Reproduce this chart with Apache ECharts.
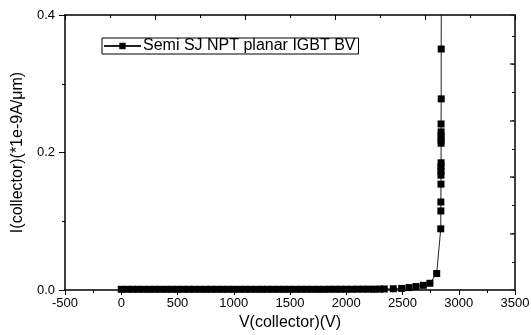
<!DOCTYPE html>
<html>
<head>
<meta charset="utf-8">
<script src="https://cdn.jsdelivr.net/npm/echarts@6/dist/echarts.min.js"></script>
<style>
  html, body { margin: 0; padding: 0; background: #fff; }
  #chart { width: 531px; height: 335px; }
</style>
</head>
<body>
<div id="chart"></div>
<script>
// breakdown sweep, V(collector) in volts
var voltage = [
    0, 50, 100, 150, 200, 250, 300, 350, 400, 450,
    500, 550, 600, 650, 700, 750, 800, 850, 900, 950,
    1000, 1050, 1100, 1150, 1200, 1250, 1300, 1350, 1400, 1450,
    1500, 1550, 1600, 1650, 1700, 1750, 1800, 1850, 1900, 1950,
    2000, 2050, 2100, 2150, 2200, 2250, 2300,
    2338, 2418, 2493, 2558, 2620, 2685, 2744, 2804,
    2840, 2841, 2841, 2842, 2842, 2842, 2842, 2843,
    2843, 2843, 2843, 2843, 2843, 2844, 2844, 2845
];
// I(collector) in 1e-9 A/um
var current = [
    0.001, 0.001, 0.001, 0.001, 0.001, 0.001, 0.001, 0.001, 0.001, 0.001,
    0.001, 0.001, 0.001, 0.001, 0.001, 0.001, 0.001, 0.001, 0.001, 0.001,
    0.001, 0.001, 0.001, 0.001, 0.001, 0.001, 0.001, 0.001, 0.001, 0.001,
    0.001, 0.001, 0.001, 0.001, 0.001, 0.001, 0.001, 0.0011, 0.0011, 0.0011,
    0.0011, 0.0011, 0.0012, 0.0012, 0.0012, 0.0012, 0.0013,
    0.0015, 0.0018, 0.0023, 0.0035, 0.005, 0.0068, 0.0098, 0.024,
    0.089, 0.115, 0.128, 0.154, 0.167, 0.173, 0.179, 0.185,
    0.2135, 0.218, 0.224, 0.23, 0.2415, 0.278, 0.3505, 0.46
];
var seriesName = 'Semi SJ NPT planar IGBT BV';
var xTicks = [-500, 3500, 500];
var yTicks = [0, 0.4, 0.2];

var points = [];
for (var i = 0; i < voltage.length; i++) {
    points.push([voltage[i], current[i]]);
}

var font = 'Liberation Sans, Arial, sans-serif';
var black = '#000';

var option = {
    animation: false,
    backgroundColor: '#fff',
    grid: {
        left: 65,
        right: 16,
        top: 15,
        bottom: 45,
        containLabel: false,
        outerBoundsMode: 'none'
    },
    legend: {
        show: true,
        data: [seriesName],
        left: 102,
        top: 38,
        orient: 'horizontal',
        padding: [0, 3, 0, 1],
        borderColor: black,
        borderWidth: 1,
        borderRadius: 0,
        backgroundColor: '#fff',
        itemWidth: 37,
        itemHeight: 8,
        itemGap: 0,
        selectedMode: false,
        textStyle: { fontFamily: font, fontSize: 16, color: black, padding: [0, 0, 0, -3] }
    },
    xAxis: [
        {
            type: 'value',
            position: 'bottom',
            min: xTicks[0],
            max: xTicks[1],
            interval: xTicks[2],
            name: 'V(collector)(V)',
            nameLocation: 'middle',
            nameGap: 24,
            nameTextStyle: { fontFamily: font, fontSize: 16, color: black },
            axisLine: { show: true, onZero: false, lineStyle: { color: black, width: 1.5 } },
            axisTick: { show: true, inside: false, length: 5, lineStyle: { color: black, width: 1 } },
            minorTick: { show: true, splitNumber: 2, length: 3, lineStyle: { color: black, width: 1 } },
            axisLabel: {
                show: true, margin: 7, fontFamily: font, fontSize: 13, color: black,
                formatter: function (v) { return String(v); }
            },
            splitLine: { show: false }
        },
        {
            type: 'value',
            position: 'top',
            min: 0,
            max: 10,
            interval: 2,
            axisLine: { show: true, onZero: false, lineStyle: { color: black, width: 1.5 } },
            axisTick: { show: true, inside: true, length: 5, lineStyle: { color: black, width: 1 } },
            minorTick: { show: true, splitNumber: 2, length: 3, lineStyle: { color: black, width: 1 } },
            axisLabel: { show: false },
            splitLine: { show: false }
        }
    ],
    yAxis: [
        {
            type: 'value',
            position: 'left',
            min: yTicks[0],
            max: yTicks[1],
            interval: yTicks[2],
            name: 'I(collector)(*1e-9A/\u03bcm)',
            nameLocation: 'middle',
            nameGap: 39,
            nameTextStyle: { fontFamily: font, fontSize: 16, color: black },
            axisLine: { show: true, onZero: false, lineStyle: { color: black, width: 1.5 } },
            axisTick: { show: true, inside: false, length: 6, lineStyle: { color: black, width: 1 } },
            minorTick: { show: true, splitNumber: 2, length: 3, lineStyle: { color: black, width: 1 } },
            axisLabel: {
                show: true, margin: 10, fontFamily: font, fontSize: 13, color: black,
                formatter: function (v) { return v.toFixed(1); }
            },
            splitLine: { show: false }
        },
        {
            type: 'value',
            position: 'right',
            offset: 0,
            min: 0,
            max: 9.74,
            interval: 1,
            axisLine: { show: true, onZero: false, lineStyle: { color: black, width: 1.5 } },
            axisTick: { show: true, inside: true, length: 3, lineStyle: { color: black, width: 1 } },
            axisLabel: { show: false },
            splitLine: { show: false }
        },
        {
            type: 'value',
            position: 'right',
            offset: 0,
            min: 0,
            max: 9.74,
            interval: 2,
            axisLine: { show: false, onZero: false },
            axisTick: { show: true, inside: true, length: 5, lineStyle: { color: '#333', width: 1.5 } },
            axisLabel: { show: false },
            splitLine: { show: false }
        }
    ],
    series: [
        {
            name: seriesName,
            type: 'line',
            xAxisIndex: 0,
            yAxisIndex: 0,
            data: points,
            clip: true,
            symbol: 'rect',
            symbolSize: 7,
            showSymbol: true,
            showAllSymbol: true,
            itemStyle: { color: black, borderWidth: 0 },
            lineStyle: { color: '#222', width: 1 },
            emphasis: { disabled: true }
        }
    ]
};

var chart = echarts.init(document.getElementById('chart'));
chart.setOption(option);
</script>
</body>
</html>
